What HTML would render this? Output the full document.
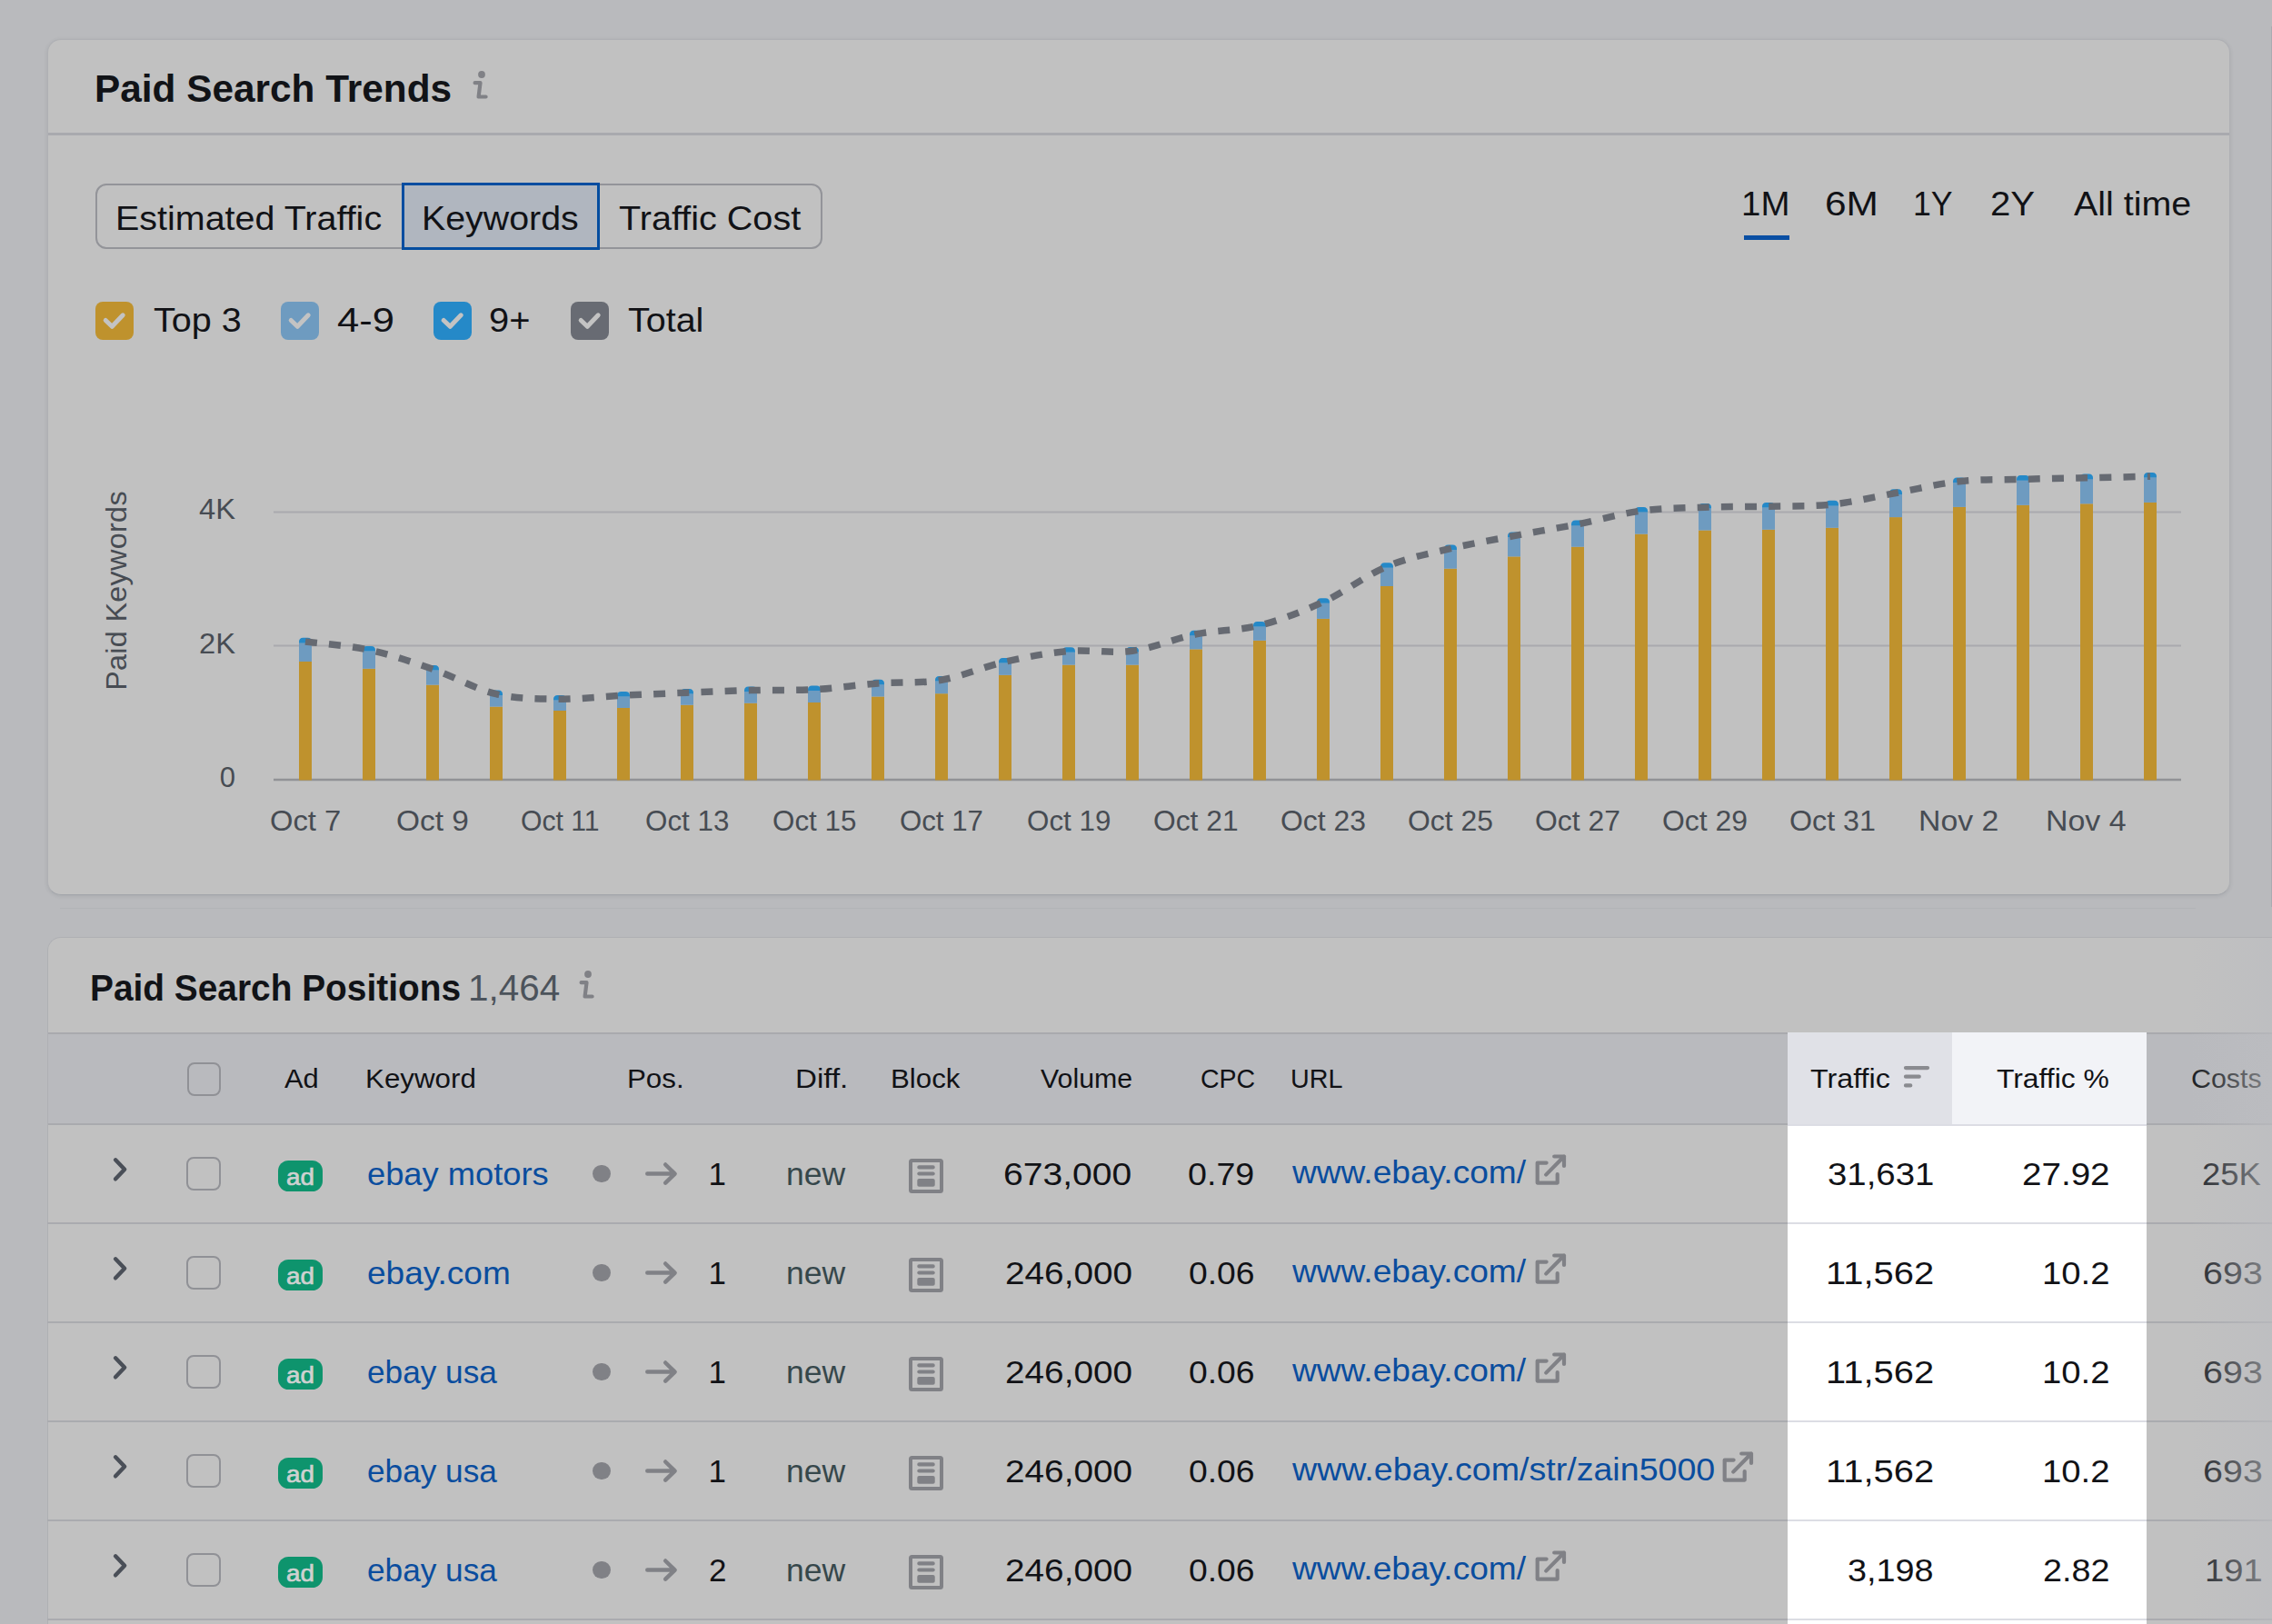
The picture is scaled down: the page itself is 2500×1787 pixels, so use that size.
<!DOCTYPE html>
<html><head><meta charset="utf-8"><style>
html,body{margin:0;padding:0}
body{width:2500px;height:1787px;overflow:hidden;position:relative;background:#b9babd;font-family:"Liberation Sans",sans-serif}
.t{position:absolute;white-space:pre;line-height:1.15;font-family:"Liberation Sans",sans-serif}
.ic{position:absolute;overflow:visible}
.cb{position:absolute;width:42px;height:42px;border-radius:8px}
.card{position:absolute;background:#c1c1c1;border:1.5px solid #afb0b4;border-radius:15px;box-sizing:border-box}
.rcb{position:absolute;left:205.4px;width:37.6px;height:37px;border:2px solid #909196;border-radius:8px;box-sizing:border-box}
.badge{position:absolute;left:306.4px;width:48.6px;height:34px;border-radius:11.5px;background:#0e946d}
.dot{position:absolute;left:652.3px;width:19.4px;height:19.4px;border-radius:50%;background:#808186}
.rsep{position:absolute;left:52px;width:2448px;height:2px;background:#aaabaf}
.hlsep{position:absolute;left:1967px;width:395px;height:2px;background:#dcdde4}
</style></head><body>
<div class="card" style="left:51.5px;top:42.5px;width:2402.5px;height:942.5px;box-shadow:0 1px 4px rgba(40,50,60,0.12);border-bottom-color:#a3a6ab"></div>
<div style="position:absolute;left:66px;top:999px;width:2350px;height:1px;background:rgba(160,162,168,0.25)"></div>
<div style="position:absolute;left:53px;top:146px;width:2400px;height:2.5px;background:#a9aaae"></div>
<svg class=ic style="left:510px;top:70px" width="30" height="45" viewBox="0 0 30 45"><circle cx="20" cy="12" r="3.9" fill="#808186"/><path d="M12.6,21.2 L18.5,21.2 L16.6,36.5 L24.6,36.5" fill="none" stroke="#808186" stroke-width="4.2" stroke-linecap="round" stroke-linejoin="round"/></svg>
<div style="position:absolute;left:105px;top:202px;width:800px;height:72px;border:2px solid #939499;border-radius:12px;box-sizing:border-box"></div>
<div style="position:absolute;left:442px;top:201px;width:218px;height:74px;border:3px solid #034da0;background:#b0b6bf;box-sizing:border-box"></div>
<div style="position:absolute;left:1918.6px;top:259px;width:50px;height:5px;background:#0a4fa3"></div>
<div class=cb style="left:104.7px;top:331.9px;background:#bf922d"></div><svg class=ic style="left:104.7px;top:331.9px" width="42" height="42"><path d="M11.2,20.5 L18.3,27.3 L30.2,14.8" fill="none" stroke="#c3c3c3" stroke-width="5" stroke-linecap="round" stroke-linejoin="round"/></svg><div class=cb style="left:308.7px;top:331.9px;background:#6e9bc0"></div><svg class=ic style="left:308.7px;top:331.9px" width="42" height="42"><path d="M11.2,20.5 L18.3,27.3 L30.2,14.8" fill="none" stroke="#c3c3c3" stroke-width="5" stroke-linecap="round" stroke-linejoin="round"/></svg><div class=cb style="left:476.5px;top:331.9px;background:#2589c8"></div><svg class=ic style="left:476.5px;top:331.9px" width="42" height="42"><path d="M11.2,20.5 L18.3,27.3 L30.2,14.8" fill="none" stroke="#c3c3c3" stroke-width="5" stroke-linecap="round" stroke-linejoin="round"/></svg><div class=cb style="left:628px;top:331.9px;background:#686b73"></div><svg class=ic style="left:628px;top:331.9px" width="42" height="42"><path d="M11.2,20.5 L18.3,27.3 L30.2,14.8" fill="none" stroke="#c3c3c3" stroke-width="5" stroke-linecap="round" stroke-linejoin="round"/></svg>
<svg class=ic style="left:0;top:0" width="2500" height="1000">
<line x1="301" y1="563.5" x2="2400" y2="563.5" stroke="#a9aaae" stroke-width="2"/>
<line x1="301" y1="710.5" x2="2400" y2="710.5" stroke="#a9aaae" stroke-width="2"/>
<line x1="301" y1="858" x2="2400" y2="858" stroke="#919296" stroke-width="2.5"/>
<rect x="329" y="728.0" width="14" height="130.5" fill="#bf922d"/>
<rect x="329" y="707.2" width="14" height="20.8" fill="#6e9bc0"/>
<path d="M329,707.4 L329,706.3 Q329,701.8 333.5,701.8 L338.5,701.8 Q343,701.8 343,706.3 L343,707.4 Z" fill="#2589c8"/>
<rect x="399" y="735.8" width="14" height="122.7" fill="#bf922d"/>
<rect x="399" y="716.4" width="14" height="19.4" fill="#6e9bc0"/>
<path d="M399,716.6 L399,715.5 Q399,711.0 403.5,711.0 L408.5,711.0 Q413,711.0 413,715.5 L413,716.6 Z" fill="#2589c8"/>
<rect x="469" y="753.6" width="14" height="104.9" fill="#bf922d"/>
<rect x="469" y="737.4" width="14" height="16.2" fill="#6e9bc0"/>
<path d="M469,737.6 L469,736.5 Q469,732.0 473.5,732.0 L478.5,732.0 Q483,732.0 483,736.5 L483,737.6 Z" fill="#2589c8"/>
<rect x="539" y="777.6" width="14" height="80.9" fill="#bf922d"/>
<rect x="539" y="764.9" width="14" height="12.7" fill="#6e9bc0"/>
<path d="M539,765.1 L539,764.0 Q539,759.5 543.5,759.5 L548.5,759.5 Q553,759.5 553,764.0 L553,765.1 Z" fill="#2589c8"/>
<rect x="609" y="782.0" width="14" height="76.5" fill="#bf922d"/>
<rect x="609" y="770.4" width="14" height="11.6" fill="#6e9bc0"/>
<path d="M609,770.6 L609,769.5 Q609,765.0 613.5,765.0 L618.5,765.0 Q623,765.0 623,769.5 L623,770.6 Z" fill="#2589c8"/>
<rect x="679" y="779.0" width="14" height="79.5" fill="#bf922d"/>
<rect x="679" y="766.4" width="14" height="12.6" fill="#6e9bc0"/>
<path d="M679,766.6 L679,765.5 Q679,761.0 683.5,761.0 L688.5,761.0 Q693,761.0 693,765.5 L693,766.6 Z" fill="#2589c8"/>
<rect x="749" y="775.7" width="14" height="82.8" fill="#bf922d"/>
<rect x="749" y="763.4" width="14" height="12.3" fill="#6e9bc0"/>
<path d="M749,763.6 L749,762.5 Q749,758.0 753.5,758.0 L758.5,758.0 Q763,758.0 763,762.5 L763,763.6 Z" fill="#2589c8"/>
<rect x="819" y="773.7" width="14" height="84.8" fill="#bf922d"/>
<rect x="819" y="760.8" width="14" height="12.9" fill="#6e9bc0"/>
<path d="M819,761.0 L819,759.9 Q819,755.4 823.5,755.4 L828.5,755.4 Q833,755.4 833,759.9 L833,761.0 Z" fill="#2589c8"/>
<rect x="889" y="773.0" width="14" height="85.5" fill="#bf922d"/>
<rect x="889" y="759.9" width="14" height="13.1" fill="#6e9bc0"/>
<path d="M889,760.1 L889,759.0 Q889,754.5 893.5,754.5 L898.5,754.5 Q903,754.5 903,759.0 L903,760.1 Z" fill="#2589c8"/>
<rect x="959" y="766.5" width="14" height="92.0" fill="#bf922d"/>
<rect x="959" y="753.1" width="14" height="13.4" fill="#6e9bc0"/>
<path d="M959,753.3 L959,752.2 Q959,747.7 963.5,747.7 L968.5,747.7 Q973,747.7 973,752.2 L973,753.3 Z" fill="#2589c8"/>
<rect x="1029" y="763.2" width="14" height="95.3" fill="#bf922d"/>
<rect x="1029" y="749.4" width="14" height="13.8" fill="#6e9bc0"/>
<path d="M1029,749.6 L1029,748.5 Q1029,744.0 1033.5,744.0 L1038.5,744.0 Q1043,744.0 1043,748.5 L1043,749.6 Z" fill="#2589c8"/>
<rect x="1099" y="742.8" width="14" height="115.7" fill="#bf922d"/>
<rect x="1099" y="729.4" width="14" height="13.4" fill="#6e9bc0"/>
<path d="M1099,729.6 L1099,728.5 Q1099,724.0 1103.5,724.0 L1108.5,724.0 Q1113,724.0 1113,728.5 L1113,729.6 Z" fill="#2589c8"/>
<rect x="1169" y="731.6" width="14" height="126.9" fill="#bf922d"/>
<rect x="1169" y="717.6" width="14" height="14.0" fill="#6e9bc0"/>
<path d="M1169,717.8 L1169,716.7 Q1169,712.2 1173.5,712.2 L1178.5,712.2 Q1183,712.2 1183,716.7 L1183,717.8 Z" fill="#2589c8"/>
<rect x="1239" y="731.6" width="14" height="126.9" fill="#bf922d"/>
<rect x="1239" y="717.4" width="14" height="14.2" fill="#6e9bc0"/>
<path d="M1239,717.6 L1239,716.5 Q1239,712.0 1243.5,712.0 L1248.5,712.0 Q1253,712.0 1253,716.5 L1253,717.6 Z" fill="#2589c8"/>
<rect x="1309" y="714.4" width="14" height="144.1" fill="#bf922d"/>
<rect x="1309" y="699.1" width="14" height="15.3" fill="#6e9bc0"/>
<path d="M1309,699.3 L1309,698.2 Q1309,693.7 1313.5,693.7 L1318.5,693.7 Q1323,693.7 1323,698.2 L1323,699.3 Z" fill="#2589c8"/>
<rect x="1379" y="704.8" width="14" height="153.7" fill="#bf922d"/>
<rect x="1379" y="689.3" width="14" height="15.5" fill="#6e9bc0"/>
<path d="M1379,689.5 L1379,688.4 Q1379,683.9 1383.5,683.9 L1388.5,683.9 Q1393,683.9 1393,688.4 L1393,689.5 Z" fill="#2589c8"/>
<rect x="1449" y="680.9" width="14" height="177.6" fill="#bf922d"/>
<rect x="1449" y="663.6" width="14" height="17.3" fill="#6e9bc0"/>
<path d="M1449,663.8 L1449,662.7 Q1449,658.2 1453.5,658.2 L1458.5,658.2 Q1463,658.2 1463,662.7 L1463,663.8 Z" fill="#2589c8"/>
<rect x="1519" y="645.0" width="14" height="213.5" fill="#bf922d"/>
<rect x="1519" y="624.6" width="14" height="20.4" fill="#6e9bc0"/>
<path d="M1519,624.8 L1519,623.7 Q1519,619.2 1523.5,619.2 L1528.5,619.2 Q1533,619.2 1533,623.7 L1533,624.8 Z" fill="#2589c8"/>
<rect x="1589" y="625.7" width="14" height="232.8" fill="#bf922d"/>
<rect x="1589" y="604.8" width="14" height="20.9" fill="#6e9bc0"/>
<path d="M1589,605.0 L1589,603.9 Q1589,599.4 1593.5,599.4 L1598.5,599.4 Q1603,599.4 1603,603.9 L1603,605.0 Z" fill="#2589c8"/>
<rect x="1659" y="612.4" width="14" height="246.1" fill="#bf922d"/>
<rect x="1659" y="590.8" width="14" height="21.6" fill="#6e9bc0"/>
<path d="M1659,591.0 L1659,589.9 Q1659,585.4 1663.5,585.4 L1668.5,585.4 Q1673,585.4 1673,589.9 L1673,591.0 Z" fill="#2589c8"/>
<rect x="1729" y="601.7" width="14" height="256.8" fill="#bf922d"/>
<rect x="1729" y="578.0" width="14" height="23.7" fill="#6e9bc0"/>
<path d="M1729,578.2 L1729,577.1 Q1729,572.6 1733.5,572.6 L1738.5,572.6 Q1743,572.6 1743,577.1 L1743,578.2 Z" fill="#2589c8"/>
<rect x="1799" y="587.6" width="14" height="270.9" fill="#bf922d"/>
<rect x="1799" y="563.3" width="14" height="24.3" fill="#6e9bc0"/>
<path d="M1799,563.5 L1799,562.4 Q1799,557.9 1803.5,557.9 L1808.5,557.9 Q1813,557.9 1813,562.4 L1813,563.5 Z" fill="#2589c8"/>
<rect x="1869" y="583.5" width="14" height="275.0" fill="#bf922d"/>
<rect x="1869" y="559.4" width="14" height="24.1" fill="#6e9bc0"/>
<path d="M1869,559.6 L1869,558.5 Q1869,554.0 1873.5,554.0 L1878.5,554.0 Q1883,554.0 1883,558.5 L1883,559.6 Z" fill="#2589c8"/>
<rect x="1939" y="582.8" width="14" height="275.7" fill="#bf922d"/>
<rect x="1939" y="558.4" width="14" height="24.4" fill="#6e9bc0"/>
<path d="M1939,558.6 L1939,557.5 Q1939,553.0 1943.5,553.0 L1948.5,553.0 Q1953,553.0 1953,557.5 L1953,558.6 Z" fill="#2589c8"/>
<rect x="2009" y="580.8" width="14" height="277.7" fill="#bf922d"/>
<rect x="2009" y="556.2" width="14" height="24.6" fill="#6e9bc0"/>
<path d="M2009,556.4 L2009,555.3 Q2009,550.8 2013.5,550.8 L2018.5,550.8 Q2023,550.8 2023,555.3 L2023,556.4 Z" fill="#2589c8"/>
<rect x="2079" y="569.1" width="14" height="289.4" fill="#bf922d"/>
<rect x="2079" y="543.7" width="14" height="25.4" fill="#6e9bc0"/>
<path d="M2079,543.9 L2079,542.8 Q2079,538.3 2083.5,538.3 L2088.5,538.3 Q2093,538.3 2093,542.8 L2093,543.9 Z" fill="#2589c8"/>
<rect x="2149" y="557.9" width="14" height="300.6" fill="#bf922d"/>
<rect x="2149" y="530.9" width="14" height="27.0" fill="#6e9bc0"/>
<path d="M2149,531.1 L2149,530.0 Q2149,525.5 2153.5,525.5 L2158.5,525.5 Q2163,525.5 2163,530.0 L2163,531.1 Z" fill="#2589c8"/>
<rect x="2219" y="555.8" width="14" height="302.7" fill="#bf922d"/>
<rect x="2219" y="528.5" width="14" height="27.3" fill="#6e9bc0"/>
<path d="M2219,528.7 L2219,527.6 Q2219,523.1 2223.5,523.1 L2228.5,523.1 Q2233,523.1 2233,527.6 L2233,528.7 Z" fill="#2589c8"/>
<rect x="2289" y="554.3" width="14" height="304.2" fill="#bf922d"/>
<rect x="2289" y="527.0" width="14" height="27.3" fill="#6e9bc0"/>
<path d="M2289,527.2 L2289,526.1 Q2289,521.6 2293.5,521.6 L2298.5,521.6 Q2303,521.6 2303,526.1 L2303,527.2 Z" fill="#2589c8"/>
<rect x="2359" y="552.9" width="14" height="305.6" fill="#bf922d"/>
<rect x="2359" y="525.4" width="14" height="27.5" fill="#6e9bc0"/>
<path d="M2359,525.6 L2359,524.5 Q2359,520.0 2363.5,520.0 L2368.5,520.0 Q2373,520.0 2373,524.5 L2373,525.6 Z" fill="#2589c8"/>
<path d="M336,706.0 C347.7,707.5 382.7,710.2 406,715.2 C429.3,720.2 452.7,728.1 476,736.2 C499.3,744.3 522.7,758.2 546,763.7 C569.3,769.2 592.7,769.0 616,769.2 C639.3,769.5 662.7,766.4 686,765.2 C709.3,764.0 732.7,763.1 756,762.2 C779.3,761.3 802.7,760.2 826,759.6 C849.3,759.0 872.7,760.0 896,758.7 C919.3,757.4 942.7,753.7 966,751.9 C989.3,750.2 1012.7,752.2 1036,748.2 C1059.3,744.2 1082.7,733.5 1106,728.2 C1129.3,722.9 1152.7,718.4 1176,716.4 C1199.3,714.4 1222.7,719.3 1246,716.2 C1269.3,713.1 1292.7,702.6 1316,697.9 C1339.3,693.2 1362.7,694.0 1386,688.1 C1409.3,682.2 1432.7,673.2 1456,662.4 C1479.3,651.6 1502.7,633.2 1526,623.4 C1549.3,613.6 1572.7,609.2 1596,603.6 C1619.3,598.0 1642.7,594.1 1666,589.6 C1689.3,585.1 1712.7,581.4 1736,576.8 C1759.3,572.2 1782.7,565.2 1806,562.1 C1829.3,559.0 1852.7,559.0 1876,558.2 C1899.3,557.4 1922.7,557.7 1946,557.2 C1969.3,556.7 1992.7,557.5 2016,555.0 C2039.3,552.5 2062.7,546.7 2086,542.5 C2109.3,538.3 2132.7,532.2 2156,529.7 C2179.3,527.2 2202.7,528.0 2226,527.3 C2249.3,526.7 2272.7,526.3 2296,525.8 C2319.3,525.3 2354.3,524.5 2366,524.2" fill="none" stroke="#666a72" stroke-width="7.5" stroke-dasharray="13 13.18"/>
</svg>
<div class="t" style="left:128.5px;top:650px;font-size:31px;color:#474c53;transform:translate(-50%,-50%) rotate(-90deg) scaleX(1.043);letter-spacing:0.3px">Paid Keywords</div>
<div class="card" style="left:51.5px;top:1031px;width:2600px;height:900px;border-right:none"></div>
<div style="position:absolute;left:53px;top:1136px;width:2447px;height:101px;background:#b9babe;border-top:2px solid #a9aaae;box-sizing:border-box"></div>
<div style="position:absolute;left:53px;top:1236px;width:2447px;height:2px;background:#a9aaae"></div>
<svg class=ic style="left:627px;top:1060.2px" width="30" height="45" viewBox="0 0 30 45"><circle cx="20" cy="12" r="3.9" fill="#808186"/><path d="M12.6,21.2 L18.5,21.2 L16.6,36.5 L24.6,36.5" fill="none" stroke="#808186" stroke-width="4.2" stroke-linecap="round" stroke-linejoin="round"/></svg>
<div class=rcb style="top:1168.6px;left:205.5px"></div>
<div class=rsep style="top:1345px"></div>
<div class=rsep style="top:1454px"></div>
<div class=rsep style="top:1563px"></div>
<div class=rsep style="top:1672px"></div>
<div class=rsep style="top:1781px"></div>
<div style="position:absolute;left:1967px;top:1136px;width:181px;height:101px;background:#e0e1e7"></div>
<div style="position:absolute;left:2148px;top:1136px;width:214px;height:101px;background:#f2f3f7"></div>
<div style="position:absolute;left:1967px;top:1237px;width:395px;height:550px;background:#ffffff"></div>
<div style="position:absolute;left:1967px;top:1237px;width:395px;height:2px;background:#dcdde4"></div>
<div class=hlsep style="top:1345px"></div>
<div class=hlsep style="top:1454px"></div>
<div class=hlsep style="top:1563px"></div>
<div class=hlsep style="top:1672px"></div>
<div class=hlsep style="top:1781px"></div>
<svg class=ic style="left:2090px;top:1170px" width="40" height="30"><path d="M7,5.1 L31,5.1 M7,14.7 L21.7,14.7 M7,24.4 L12.2,24.4" stroke="#8a8b90" stroke-width="4.3" stroke-linecap="round"/></svg>
<svg class=ic style="left:110px;top:1260px" width="50" height="50"><path d="M17.1,16.3 L27.1,26.8 L17.1,37.3" fill="none" stroke="#4a4f58" stroke-width="4.5" stroke-linecap="round" stroke-linejoin="round"/></svg><div class=rcb style="top:1273px"></div><div class=badge style="top:1277px"></div><div class=dot style="top:1281.7px"></div><svg class=ic style="left:700px;top:1271px" width="60" height="40"><path d="M12.3,20.6 L42.3,20.6 M32.2,10.5 L42.6,20.6 L32.2,30.6" fill="none" stroke="#808186" stroke-width="4.5" stroke-linecap="round" stroke-linejoin="round"/></svg><svg class=ic style="left:990px;top:1265px" width="60" height="60"><rect x="12" y="12" width="34" height="34" rx="1.5" fill="none" stroke="#808186" stroke-width="4"/><rect x="19.3" y="17.2" width="19.4" height="4.3" rx="2" fill="#808186"/><rect x="19.3" y="24.5" width="19.4" height="4.1" rx="2" fill="#808186"/><rect x="19.3" y="31.9" width="19.4" height="8.8" rx="2" fill="#808186"/></svg>
<svg class=ic style="left:1680px;top:1263px" width="50" height="50"><path d="M21.6,16.6 L11.7,16.6 L11.7,38.6 L33.7,38.6 L33.7,29.1" fill="none" stroke="#808186" stroke-width="4.2" stroke-linecap="round" stroke-linejoin="round"/><path d="M21.2,29.6 L41,9.5 M30.2,9.5 L41,9.5 L41,20" fill="none" stroke="#808186" stroke-width="4.2" stroke-linecap="round" stroke-linejoin="round"/></svg>
<svg class=ic style="left:110px;top:1369px" width="50" height="50"><path d="M17.1,16.3 L27.1,26.8 L17.1,37.3" fill="none" stroke="#4a4f58" stroke-width="4.5" stroke-linecap="round" stroke-linejoin="round"/></svg><div class=rcb style="top:1382px"></div><div class=badge style="top:1386px"></div><div class=dot style="top:1390.7px"></div><svg class=ic style="left:700px;top:1380px" width="60" height="40"><path d="M12.3,20.6 L42.3,20.6 M32.2,10.5 L42.6,20.6 L32.2,30.6" fill="none" stroke="#808186" stroke-width="4.5" stroke-linecap="round" stroke-linejoin="round"/></svg><svg class=ic style="left:990px;top:1374px" width="60" height="60"><rect x="12" y="12" width="34" height="34" rx="1.5" fill="none" stroke="#808186" stroke-width="4"/><rect x="19.3" y="17.2" width="19.4" height="4.3" rx="2" fill="#808186"/><rect x="19.3" y="24.5" width="19.4" height="4.1" rx="2" fill="#808186"/><rect x="19.3" y="31.9" width="19.4" height="8.8" rx="2" fill="#808186"/></svg>
<svg class=ic style="left:1680px;top:1372px" width="50" height="50"><path d="M21.6,16.6 L11.7,16.6 L11.7,38.6 L33.7,38.6 L33.7,29.1" fill="none" stroke="#808186" stroke-width="4.2" stroke-linecap="round" stroke-linejoin="round"/><path d="M21.2,29.6 L41,9.5 M30.2,9.5 L41,9.5 L41,20" fill="none" stroke="#808186" stroke-width="4.2" stroke-linecap="round" stroke-linejoin="round"/></svg>
<svg class=ic style="left:110px;top:1478px" width="50" height="50"><path d="M17.1,16.3 L27.1,26.8 L17.1,37.3" fill="none" stroke="#4a4f58" stroke-width="4.5" stroke-linecap="round" stroke-linejoin="round"/></svg><div class=rcb style="top:1491px"></div><div class=badge style="top:1495px"></div><div class=dot style="top:1499.7px"></div><svg class=ic style="left:700px;top:1489px" width="60" height="40"><path d="M12.3,20.6 L42.3,20.6 M32.2,10.5 L42.6,20.6 L32.2,30.6" fill="none" stroke="#808186" stroke-width="4.5" stroke-linecap="round" stroke-linejoin="round"/></svg><svg class=ic style="left:990px;top:1483px" width="60" height="60"><rect x="12" y="12" width="34" height="34" rx="1.5" fill="none" stroke="#808186" stroke-width="4"/><rect x="19.3" y="17.2" width="19.4" height="4.3" rx="2" fill="#808186"/><rect x="19.3" y="24.5" width="19.4" height="4.1" rx="2" fill="#808186"/><rect x="19.3" y="31.9" width="19.4" height="8.8" rx="2" fill="#808186"/></svg>
<svg class=ic style="left:1680px;top:1481px" width="50" height="50"><path d="M21.6,16.6 L11.7,16.6 L11.7,38.6 L33.7,38.6 L33.7,29.1" fill="none" stroke="#808186" stroke-width="4.2" stroke-linecap="round" stroke-linejoin="round"/><path d="M21.2,29.6 L41,9.5 M30.2,9.5 L41,9.5 L41,20" fill="none" stroke="#808186" stroke-width="4.2" stroke-linecap="round" stroke-linejoin="round"/></svg>
<svg class=ic style="left:110px;top:1587px" width="50" height="50"><path d="M17.1,16.3 L27.1,26.8 L17.1,37.3" fill="none" stroke="#4a4f58" stroke-width="4.5" stroke-linecap="round" stroke-linejoin="round"/></svg><div class=rcb style="top:1600px"></div><div class=badge style="top:1604px"></div><div class=dot style="top:1608.7px"></div><svg class=ic style="left:700px;top:1598px" width="60" height="40"><path d="M12.3,20.6 L42.3,20.6 M32.2,10.5 L42.6,20.6 L32.2,30.6" fill="none" stroke="#808186" stroke-width="4.5" stroke-linecap="round" stroke-linejoin="round"/></svg><svg class=ic style="left:990px;top:1592px" width="60" height="60"><rect x="12" y="12" width="34" height="34" rx="1.5" fill="none" stroke="#808186" stroke-width="4"/><rect x="19.3" y="17.2" width="19.4" height="4.3" rx="2" fill="#808186"/><rect x="19.3" y="24.5" width="19.4" height="4.1" rx="2" fill="#808186"/><rect x="19.3" y="31.9" width="19.4" height="8.8" rx="2" fill="#808186"/></svg>
<svg class=ic style="left:1886.4px;top:1590px" width="50" height="50"><path d="M21.6,16.6 L11.7,16.6 L11.7,38.6 L33.7,38.6 L33.7,29.1" fill="none" stroke="#808186" stroke-width="4.2" stroke-linecap="round" stroke-linejoin="round"/><path d="M21.2,29.6 L41,9.5 M30.2,9.5 L41,9.5 L41,20" fill="none" stroke="#808186" stroke-width="4.2" stroke-linecap="round" stroke-linejoin="round"/></svg>
<svg class=ic style="left:110px;top:1696px" width="50" height="50"><path d="M17.1,16.3 L27.1,26.8 L17.1,37.3" fill="none" stroke="#4a4f58" stroke-width="4.5" stroke-linecap="round" stroke-linejoin="round"/></svg><div class=rcb style="top:1709px"></div><div class=badge style="top:1713px"></div><div class=dot style="top:1717.7px"></div><svg class=ic style="left:700px;top:1707px" width="60" height="40"><path d="M12.3,20.6 L42.3,20.6 M32.2,10.5 L42.6,20.6 L32.2,30.6" fill="none" stroke="#808186" stroke-width="4.5" stroke-linecap="round" stroke-linejoin="round"/></svg><svg class=ic style="left:990px;top:1701px" width="60" height="60"><rect x="12" y="12" width="34" height="34" rx="1.5" fill="none" stroke="#808186" stroke-width="4"/><rect x="19.3" y="17.2" width="19.4" height="4.3" rx="2" fill="#808186"/><rect x="19.3" y="24.5" width="19.4" height="4.1" rx="2" fill="#808186"/><rect x="19.3" y="31.9" width="19.4" height="8.8" rx="2" fill="#808186"/></svg>
<svg class=ic style="left:1680px;top:1699px" width="50" height="50"><path d="M21.6,16.6 L11.7,16.6 L11.7,38.6 L33.7,38.6 L33.7,29.1" fill="none" stroke="#808186" stroke-width="4.2" stroke-linecap="round" stroke-linejoin="round"/><path d="M21.2,29.6 L41,9.5 M30.2,9.5 L41,9.5 L41,20" fill="none" stroke="#808186" stroke-width="4.2" stroke-linecap="round" stroke-linejoin="round"/></svg>
<span class=t style="left:104.0px;top:72.6px;font-size:43px;font-weight:700;color:#111317;transform:scaleX(0.9848);transform-origin:0 0;">Paid Search Trends</span>
<span class=t style="left:126.8px;top:219.5px;font-size:37px;font-weight:400;color:#111216;transform:scaleX(1.0664);transform-origin:0 0;">Estimated Traffic</span>
<span class=t style="left:463.8px;top:219.5px;font-size:37px;font-weight:400;color:#111216;transform:scaleX(1.0633);transform-origin:0 0;">Keywords</span>
<span class=t style="left:680.9px;top:219.5px;font-size:37px;font-weight:400;color:#111216;transform:scaleX(1.0699);transform-origin:0 0;">Traffic Cost</span>
<span class=t style="left:1915.5px;top:203.7px;font-size:37px;font-weight:400;color:#111216;transform:scaleX(1.0391);transform-origin:0 0;">1M</span>
<span class=t style="left:2008.1px;top:203.7px;font-size:37px;font-weight:400;color:#111216;transform:scaleX(1.1468);transform-origin:0 0;">6M</span>
<span class=t style="left:2105.1px;top:203.7px;font-size:37px;font-weight:400;color:#111216;transform:scaleX(0.9634);transform-origin:0 0;">1Y</span>
<span class=t style="left:2189.7px;top:203.7px;font-size:37px;font-weight:400;color:#111216;transform:scaleX(1.0857);transform-origin:0 0;">2Y</span>
<span class=t style="left:2281.5px;top:203.7px;font-size:37px;font-weight:400;color:#111216;transform:scaleX(1.0658);transform-origin:0 0;">All time</span>
<span class=t style="left:168.9px;top:331.9px;font-size:37px;font-weight:400;color:#111216;transform:scaleX(1.0682);transform-origin:0 0;">Top 3</span>
<span class=t style="left:370.8px;top:331.9px;font-size:37px;font-weight:400;color:#111216;transform:scaleX(1.1765);transform-origin:0 0;">4-9</span>
<span class=t style="left:537.8px;top:331.9px;font-size:37px;font-weight:400;color:#111216;transform:scaleX(1.0769);transform-origin:0 0;">9+</span>
<span class=t style="left:690.9px;top:331.9px;font-size:37px;font-weight:400;color:#111216;transform:scaleX(1.0667);transform-origin:0 0;">Total</span>
<span class=t style="left:218.6px;top:543.4px;font-size:31px;font-weight:400;color:#474c53;transform:scaleX(1.0556);transform-origin:0 0;">4K</span>
<span class=t style="left:218.6px;top:691.4px;font-size:31px;font-weight:400;color:#474c53;transform:scaleX(1.0556);transform-origin:0 0;">2K</span>
<span class=t style="left:241.7px;top:838.4px;font-size:31px;font-weight:400;color:#474c53;">0</span>
<span class=t style="left:296.9px;top:886.4px;font-size:31px;font-weight:400;color:#474c53;transform:scaleX(1.0556);transform-origin:0 0;">Oct 7</span>
<span class=t style="left:436.1px;top:886.4px;font-size:31px;font-weight:400;color:#474c53;transform:scaleX(1.0778);transform-origin:0 0;">Oct 9</span>
<span class=t style="left:572.7px;top:886.4px;font-size:31px;font-weight:400;color:#474c53;transform:scaleX(0.9724);transform-origin:0 0;">Oct 11</span>
<span class=t style="left:710.0px;top:886.4px;font-size:31px;font-weight:400;color:#474c53;transform:scaleX(1.0112);transform-origin:0 0;">Oct 13</span>
<span class=t style="left:850.0px;top:886.4px;font-size:31px;font-weight:400;color:#474c53;transform:scaleX(1.0112);transform-origin:0 0;">Oct 15</span>
<span class=t style="left:990.2px;top:886.4px;font-size:31px;font-weight:400;color:#474c53;transform:scaleX(1.0056);transform-origin:0 0;">Oct 17</span>
<span class=t style="left:1130.0px;top:886.4px;font-size:31px;font-weight:400;color:#474c53;transform:scaleX(1.0112);transform-origin:0 0;">Oct 19</span>
<span class=t style="left:1269.4px;top:886.4px;font-size:31px;font-weight:400;color:#474c53;transform:scaleX(1.0247);transform-origin:0 0;">Oct 21</span>
<span class=t style="left:1409.2px;top:886.4px;font-size:31px;font-weight:400;color:#474c53;transform:scaleX(1.0281);transform-origin:0 0;">Oct 23</span>
<span class=t style="left:1549.2px;top:886.4px;font-size:31px;font-weight:400;color:#474c53;transform:scaleX(1.0281);transform-origin:0 0;">Oct 25</span>
<span class=t style="left:1689.2px;top:886.4px;font-size:31px;font-weight:400;color:#474c53;transform:scaleX(1.0281);transform-origin:0 0;">Oct 27</span>
<span class=t style="left:1829.2px;top:886.4px;font-size:31px;font-weight:400;color:#474c53;transform:scaleX(1.0281);transform-origin:0 0;">Oct 29</span>
<span class=t style="left:1968.8px;top:886.4px;font-size:31px;font-weight:400;color:#474c53;transform:scaleX(1.0382);transform-origin:0 0;">Oct 31</span>
<span class=t style="left:2111.3px;top:886.4px;font-size:31px;font-weight:400;color:#474c53;transform:scaleX(1.0897);transform-origin:0 0;">Nov 2</span>
<span class=t style="left:2251.2px;top:886.4px;font-size:31px;font-weight:400;color:#474c53;transform:scaleX(1.0936);transform-origin:0 0;">Nov 4</span>
<span class=t style="left:99.1px;top:1063.6px;font-size:40px;font-weight:700;color:#111317;transform:scaleX(0.9712);transform-origin:0 0;">Paid Search Positions</span>
<span class=t style="left:514.5px;top:1063.6px;font-size:40px;font-weight:400;color:#4c535b;transform:scaleX(1.0104);transform-origin:0 0;">1,464</span>
<span class=t style="left:312.7px;top:1169.9px;font-size:30px;font-weight:400;color:#111216;transform:scaleX(1.0286);transform-origin:0 0;">Ad</span>
<span class=t style="left:402.4px;top:1169.9px;font-size:30px;font-weight:400;color:#111216;transform:scaleX(1.0442);transform-origin:0 0;">Keyword</span>
<span class=t style="left:689.8px;top:1169.9px;font-size:30px;font-weight:400;color:#111216;transform:scaleX(1.0429);transform-origin:0 0;">Pos.</span>
<span class=t style="left:875.4px;top:1169.9px;font-size:30px;font-weight:400;color:#111216;transform:scaleX(1.1042);transform-origin:0 0;">Diff.</span>
<span class=t style="left:979.9px;top:1169.9px;font-size:30px;font-weight:400;color:#111216;transform:scaleX(1.0423);transform-origin:0 0;">Block</span>
<span class=t style="left:1144.8px;top:1169.9px;font-size:30px;font-weight:400;color:#111216;transform:scaleX(1.0101);transform-origin:0 0;">Volume</span>
<span class=t style="left:1320.5px;top:1169.9px;font-size:30px;font-weight:400;color:#111216;transform:scaleX(0.9508);transform-origin:0 0;">CPC</span>
<span class=t style="left:1419.5px;top:1169.9px;font-size:30px;font-weight:400;color:#111216;transform:scaleX(0.9579);transform-origin:0 0;">URL</span>
<span class=t style="left:1991.9px;top:1169.9px;font-size:30px;font-weight:400;color:#111216;transform:scaleX(1.0750);transform-origin:0 0;">Traffic</span>
<span class=t style="left:2196.9px;top:1169.9px;font-size:30px;font-weight:400;color:#111216;transform:scaleX(1.0609);transform-origin:0 0;">Traffic %</span>
<span class=t style="left:2411.0px;top:1169.9px;font-size:30px;font-weight:400;color:#1a1d22;transform:scaleX(1.0133);transform-origin:0 0;">Costs</span>
<span class=t style="left:403.8px;top:1271.9px;font-size:35px;font-weight:400;color:#0a4d9e;transform:scaleX(1.0368);transform-origin:0 0;">ebay motors</span>
<span class=t style="left:779.5px;top:1271.9px;font-size:35px;font-weight:400;color:#111216;">1</span>
<span class=t style="left:865.0px;top:1271.9px;font-size:35px;font-weight:400;color:#36474b;transform:scaleX(1.0161);transform-origin:0 0;">new</span>
<span class=t style="left:1104.4px;top:1271.9px;font-size:35px;font-weight:400;color:#111216;transform:scaleX(1.1171);transform-origin:0 0;">673,000</span>
<span class=t style="left:1307.3px;top:1271.9px;font-size:35px;font-weight:400;color:#111216;transform:scaleX(1.0758);transform-origin:0 0;">0.79</span>
<span class=t style="left:1422.4px;top:1269.9px;font-size:35px;font-weight:400;color:#0a4d9e;transform:scaleX(1.0601);transform-origin:0 0;">www.ebay.com/</span>
<span class=t style="left:2010.9px;top:1271.9px;font-size:35px;font-weight:400;color:#111216;transform:scaleX(1.0962);transform-origin:0 0;">31,631</span>
<span class=t style="left:2225.2px;top:1271.9px;font-size:35px;font-weight:400;color:#111216;transform:scaleX(1.1024);transform-origin:0 0;">27.92</span>
<span class=t style="left:2423.3px;top:1271.9px;font-size:35px;font-weight:400;color:#1f2429;transform:scaleX(1.0433);transform-origin:0 0;">25K</span>
<span class=t style="left:315.0px;top:1280.8px;font-size:26px;font-weight:400;color:#cfd1d0;transform:scaleX(1.0692);transform-origin:0 0;-webkit-text-stroke:0.7px #cfd1d0;">ad</span>
<span class=t style="left:403.7px;top:1380.9px;font-size:35px;font-weight:400;color:#0a4d9e;transform:scaleX(1.0582);transform-origin:0 0;">ebay.com</span>
<span class=t style="left:779.5px;top:1380.9px;font-size:35px;font-weight:400;color:#111216;">1</span>
<span class=t style="left:865.0px;top:1380.9px;font-size:35px;font-weight:400;color:#36474b;transform:scaleX(1.0161);transform-origin:0 0;">new</span>
<span class=t style="left:1105.6px;top:1380.9px;font-size:35px;font-weight:400;color:#111216;transform:scaleX(1.1073);transform-origin:0 0;">246,000</span>
<span class=t style="left:1308.0px;top:1380.9px;font-size:35px;font-weight:400;color:#111216;transform:scaleX(1.0652);transform-origin:0 0;">0.06</span>
<span class=t style="left:1422.4px;top:1378.9px;font-size:35px;font-weight:400;color:#0a4d9e;transform:scaleX(1.0601);transform-origin:0 0;">www.ebay.com/</span>
<span class=t style="left:2008.6px;top:1380.9px;font-size:35px;font-weight:400;color:#111216;transform:scaleX(1.1400);transform-origin:0 0;">11,562</span>
<span class=t style="left:2246.7px;top:1380.9px;font-size:35px;font-weight:400;color:#111216;transform:scaleX(1.0938);transform-origin:0 0;">10.2</span>
<span class=t style="left:2423.7px;top:1380.9px;font-size:35px;font-weight:400;color:#1f2429;transform:scaleX(1.1273);transform-origin:0 0;">693</span>
<span class=t style="left:315.0px;top:1389.8px;font-size:26px;font-weight:400;color:#cfd1d0;transform:scaleX(1.0692);transform-origin:0 0;-webkit-text-stroke:0.7px #cfd1d0;">ad</span>
<span class=t style="left:403.8px;top:1489.9px;font-size:35px;font-weight:400;color:#0a4d9e;transform:scaleX(1.0057);transform-origin:0 0;">ebay usa</span>
<span class=t style="left:779.5px;top:1489.9px;font-size:35px;font-weight:400;color:#111216;">1</span>
<span class=t style="left:865.0px;top:1489.9px;font-size:35px;font-weight:400;color:#36474b;transform:scaleX(1.0161);transform-origin:0 0;">new</span>
<span class=t style="left:1105.6px;top:1489.9px;font-size:35px;font-weight:400;color:#111216;transform:scaleX(1.1073);transform-origin:0 0;">246,000</span>
<span class=t style="left:1308.0px;top:1489.9px;font-size:35px;font-weight:400;color:#111216;transform:scaleX(1.0652);transform-origin:0 0;">0.06</span>
<span class=t style="left:1422.4px;top:1487.9px;font-size:35px;font-weight:400;color:#0a4d9e;transform:scaleX(1.0601);transform-origin:0 0;">www.ebay.com/</span>
<span class=t style="left:2008.6px;top:1489.9px;font-size:35px;font-weight:400;color:#111216;transform:scaleX(1.1400);transform-origin:0 0;">11,562</span>
<span class=t style="left:2246.7px;top:1489.9px;font-size:35px;font-weight:400;color:#111216;transform:scaleX(1.0938);transform-origin:0 0;">10.2</span>
<span class=t style="left:2423.7px;top:1489.9px;font-size:35px;font-weight:400;color:#1f2429;transform:scaleX(1.1273);transform-origin:0 0;">693</span>
<span class=t style="left:315.0px;top:1498.8px;font-size:26px;font-weight:400;color:#cfd1d0;transform:scaleX(1.0692);transform-origin:0 0;-webkit-text-stroke:0.7px #cfd1d0;">ad</span>
<span class=t style="left:403.8px;top:1598.9px;font-size:35px;font-weight:400;color:#0a4d9e;transform:scaleX(1.0057);transform-origin:0 0;">ebay usa</span>
<span class=t style="left:779.5px;top:1598.9px;font-size:35px;font-weight:400;color:#111216;">1</span>
<span class=t style="left:865.0px;top:1598.9px;font-size:35px;font-weight:400;color:#36474b;transform:scaleX(1.0161);transform-origin:0 0;">new</span>
<span class=t style="left:1105.6px;top:1598.9px;font-size:35px;font-weight:400;color:#111216;transform:scaleX(1.1073);transform-origin:0 0;">246,000</span>
<span class=t style="left:1308.0px;top:1598.9px;font-size:35px;font-weight:400;color:#111216;transform:scaleX(1.0652);transform-origin:0 0;">0.06</span>
<span class=t style="left:1422.4px;top:1596.9px;font-size:35px;font-weight:400;color:#0a4d9e;transform:scaleX(1.0741);transform-origin:0 0;">www.ebay.com/str/zain5000</span>
<span class=t style="left:2008.6px;top:1598.9px;font-size:35px;font-weight:400;color:#111216;transform:scaleX(1.1400);transform-origin:0 0;">11,562</span>
<span class=t style="left:2246.7px;top:1598.9px;font-size:35px;font-weight:400;color:#111216;transform:scaleX(1.0938);transform-origin:0 0;">10.2</span>
<span class=t style="left:2423.7px;top:1598.9px;font-size:35px;font-weight:400;color:#1f2429;transform:scaleX(1.1273);transform-origin:0 0;">693</span>
<span class=t style="left:315.0px;top:1607.8px;font-size:26px;font-weight:400;color:#cfd1d0;transform:scaleX(1.0692);transform-origin:0 0;-webkit-text-stroke:0.7px #cfd1d0;">ad</span>
<span class=t style="left:403.8px;top:1707.9px;font-size:35px;font-weight:400;color:#0a4d9e;transform:scaleX(1.0057);transform-origin:0 0;">ebay usa</span>
<span class=t style="left:780.0px;top:1707.9px;font-size:35px;font-weight:400;color:#111216;">2</span>
<span class=t style="left:865.0px;top:1707.9px;font-size:35px;font-weight:400;color:#36474b;transform:scaleX(1.0161);transform-origin:0 0;">new</span>
<span class=t style="left:1105.6px;top:1707.9px;font-size:35px;font-weight:400;color:#111216;transform:scaleX(1.1073);transform-origin:0 0;">246,000</span>
<span class=t style="left:1308.0px;top:1707.9px;font-size:35px;font-weight:400;color:#111216;transform:scaleX(1.0652);transform-origin:0 0;">0.06</span>
<span class=t style="left:1422.4px;top:1705.9px;font-size:35px;font-weight:400;color:#0a4d9e;transform:scaleX(1.0601);transform-origin:0 0;">www.ebay.com/</span>
<span class=t style="left:2033.1px;top:1707.9px;font-size:35px;font-weight:400;color:#111216;transform:scaleX(1.0800);transform-origin:0 0;">3,198</span>
<span class=t style="left:2247.8px;top:1707.9px;font-size:35px;font-weight:400;color:#111216;transform:scaleX(1.0769);transform-origin:0 0;">2.82</span>
<span class=t style="left:2425.7px;top:1707.9px;font-size:35px;font-weight:400;color:#1f2429;transform:scaleX(1.0926);transform-origin:0 0;">191</span>
<span class=t style="left:315.0px;top:1716.8px;font-size:26px;font-weight:400;color:#cfd1d0;transform:scaleX(1.0692);transform-origin:0 0;-webkit-text-stroke:0.7px #cfd1d0;">ad</span>
<div style="position:absolute;left:2410px;top:1032px;width:90px;height:755px;background:linear-gradient(to right, rgba(188,189,193,0) 0%, rgba(188,189,193,0.66) 100%)"></div>
<div style="position:absolute;left:2499px;top:29px;width:1px;height:969px;background:rgba(160,162,168,0.6)"></div>
</body></html>
